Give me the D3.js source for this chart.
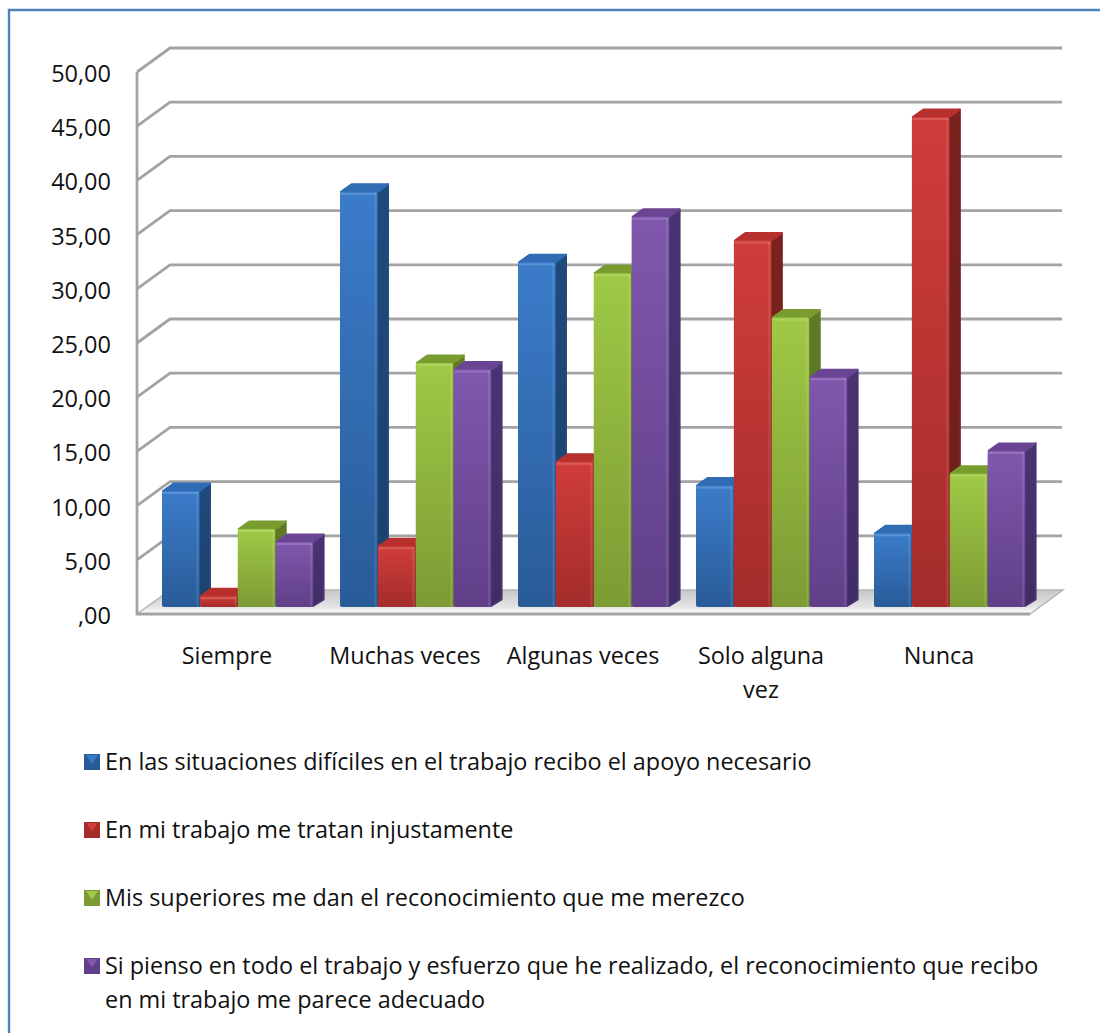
<!DOCTYPE html>
<html>
<head>
<meta charset="utf-8">
<script src="https://d3js.org/d3.v7.min.js"></script>
<style>
html,body{margin:0;padding:0;background:#fff}
svg{display:block}
text{font-family:"Open Sans","Noto Sans",sans-serif;fill:#111}
</style>
</head>
<body>
<svg id="chart" width="1100" height="1033"></svg>
<script>
// Chart content
const categories = ["Siempre", "Muchas veces", "Algunas veces", "Solo alguna vez", "Nunca"];
const seriesNames = [
  "En las situaciones difíciles en el trabajo recibo el apoyo necesario",
  "En mi trabajo me tratan injustamente",
  "Mis superiores me dan el reconocimiento que me merezco",
  "Si pienso en todo el trabajo y esfuerzo que he realizado, el reconocimiento que recibo en mi trabajo me parece adecuado"
];
const apoyo = [10.7, 38.3, 31.8, 11.2, 6.8];
const injusto = [1.0, 5.6, 13.4, 33.8, 45.2];
const reconocimiento = [7.2, 22.5, 30.8, 26.7, 12.3];
const adecuado = [6.0, 21.9, 36.0, 21.2, 14.4];
const seriesValues = [apoyo, injusto, reconocimiento, adecuado];
const yTicks = [0, 5, 10, 15, 20, 25, 30, 35, 40, 45, 50];
const palette = [
  {light:"#3b7cca", dark:"#295b97", top:"#2f6cb4", side:"#1f4a7c"},
  {light:"#d03d3a", dark:"#a32c2a", top:"#b8302d", side:"#7a2220"},
  {light:"#9fc945", dark:"#7c9b34", top:"#799c2f", side:"#5f7b26"},
  {light:"#7f58ad", dark:"#603f88", top:"#6a4593", side:"#4a3372"}
];

const svg = d3.select("#chart");
const defs = svg.append("defs");

// Vertical shading for each series
palette.forEach((p, i) => {
  const g = defs.append("linearGradient").attr("id", "front" + i)
    .attr("x1", 0).attr("y1", 0).attr("x2", 0).attr("y2", 1);
  g.append("stop").attr("offset", 0).attr("stop-color", p.light);
  g.append("stop").attr("offset", 1).attr("stop-color", p.dark);
  const s = defs.append("linearGradient").attr("id", "side" + i)
    .attr("x1", 0).attr("y1", 0).attr("x2", 0).attr("y2", 1);
  s.append("stop").attr("offset", 0).attr("stop-color", p.side);
  s.append("stop").attr("offset", 1).attr("stop-color", d3.color(p.side).darker(0.35));
});
const floorGrad = defs.append("linearGradient").attr("id", "floor")
  .attr("x1", 0).attr("y1", 0).attr("x2", 0).attr("y2", 1);
floorGrad.append("stop").attr("offset", 0).attr("stop-color", "#c6c6c6");
floorGrad.append("stop").attr("offset", 0.7).attr("stop-color", "#e4e4e4");
floorGrad.append("stop").attr("offset", 1).attr("stop-color", "#ffffff");
defs.append("filter").attr("id", "soft").append("feGaussianBlur").attr("stdDeviation", 0.6);

// Frame: top and left edges of the chart area
svg.append("path")
  .attr("d", "M9,1033V10H1100")
  .attr("fill", "none").attr("stroke", "#4f81bd").attr("stroke-width", 2.4);

// Wall geometry: front plane of the axis and the offset to the back wall
const wallLeft = 137, wallRight = 1030, depthX = 33, depthY = -24;
const yAxis = d3.scaleLinear().domain([0, 50]).range([614, 72]);
const gridColor = "#a3a3a3";

// Back wall grid and left wall diagonals
const grid = svg.append("g").attr("fill", "none").attr("stroke", gridColor).attr("stroke-width", 2.8);
yTicks.filter(t => t > 0).forEach(t => {
  grid.append("path").attr("d", d3.line()([
    [wallLeft, yAxis(t)],
    [wallLeft + depthX, yAxis(t) + depthY],
    [wallRight + depthX - 1, yAxis(t) + depthY]
  ]));
});

// Floor slab
const fl = yAxis(0);
svg.append("path")
  .attr("d", d3.line()([
    [wallLeft, fl], [wallLeft + depthX, fl + depthY],
    [wallRight + depthX, fl + depthY], [wallRight, fl]
  ]) + "Z")
  .attr("fill", "url(#floor)").attr("stroke", "#b5b5b5").attr("stroke-width", 1.5);
svg.append("line")
  .attr("x1", wallLeft - 1).attr("x2", wallRight).attr("y1", fl).attr("y2", fl)
  .attr("stroke", gridColor).attr("stroke-width", 3);
svg.append("line")
  .attr("x1", wallLeft).attr("x2", wallLeft).attr("y1", yAxis(50)).attr("y2", fl)
  .attr("stroke", gridColor).attr("stroke-width", 2.8);

// Value axis labels
svg.append("g").selectAll("text").data(yTicks).join("text")
  .attr("x", 111).attr("y", d => yAxis(d) + 1.5)
  .attr("dy", "0.36em")
  .attr("text-anchor", "end").attr("font-size", 23.5)
  .text(d => d === 0 ? ",00" : d3.format(".2f")(d).replace(".", ","));

// Bars: front plane scale sits slightly inside the floor
const yBar = d3.scaleLinear().domain([0, 50]).range([607, 65]);
const xGroup = d3.scaleBand().domain(categories).range([162, 162 + 178 * 5]);
const xBar = d3.scaleBand().domain(d3.range(4)).range([0, 151.5]);
const barDX = 11.5, barDY = -8.5;

categories.forEach((cat, c) => {
  seriesValues.forEach((vals, s) => {
    const g = svg.append("g");
    const x0 = xGroup(cat) + xBar(s), w = xBar.bandwidth() - 0.4;
    const y0 = yBar(vals[c]), y1 = yBar(0);
    const p = palette[s];
    // right side
    g.append("path").attr("d", d3.line()([
      [x0 + w, y0], [x0 + w + barDX - 1, y0 + barDY + 1], [x0 + w + barDX - 1, y1 + barDY + 1], [x0 + w, y1 - 1]
    ]) + "Z").attr("fill", `url(#side${s})`).attr("stroke", p.side).attr("stroke-width", 2)
      .attr("stroke-linejoin", "round");
    // top
    g.append("path").attr("d", d3.line()([
      [x0 + 1, y0], [x0 + barDX, y0 + barDY + 1], [x0 + w + barDX - 1, y0 + barDY + 1], [x0 + w, y0]
    ]) + "Z").attr("fill", p.top).attr("stroke", p.top).attr("stroke-width", 2).attr("stroke-linejoin", "round");
    // front
    g.append("rect").attr("x", x0).attr("y", y0).attr("width", w).attr("height", y1 - y0)
      .attr("rx", 2).attr("fill", `url(#front${s})`);
    // soft bevel along the upper and right edges
    const bevel = g.append("g").attr("filter", "url(#soft)").attr("fill", "#fff");
    bevel.append("rect").attr("x", x0 + 1).attr("y", y0 + 1).attr("width", w - 2)
      .attr("height", Math.min(2, y1 - y0)).attr("opacity", 0.16);
    bevel.append("rect").attr("x", x0 + w - 3).attr("y", y0 + 1).attr("width", 2)
      .attr("height", Math.max(0, y1 - y0 - 2)).attr("opacity", 0.1);
  });
});

// Category labels, wrapped where they run long
const catLines = {"Solo alguna vez": ["Solo alguna", "vez"]};
categories.forEach(cat => {
  const cx = xGroup(cat) + 65;
  const lines = catLines[cat] || [cat];
  lines.forEach((ln, i) => {
    svg.append("text").attr("x", cx).attr("y", 664 + i * 34)
      .attr("text-anchor", "middle").attr("font-size", 23.4).text(ln);
  });
});

// Legend
const legendRows = [
  {s: 0, y: 762, lines: [seriesNames[0]]},
  {s: 1, y: 830, lines: [seriesNames[1]]},
  {s: 2, y: 898, lines: [seriesNames[2]]},
  {s: 3, y: 966, lines: [seriesNames[3].slice(0, 86).trim(), seriesNames[3].slice(86).trim()]}
];
legendRows.forEach(r => {
  const p = palette[r.s];
  const x = 84, y = r.y - 8, sz = 16;
  svg.append("rect").attr("x", x).attr("y", y).attr("width", sz).attr("height", sz).attr("fill", p.dark);
  svg.append("path").attr("d", d3.line()([[x + 2, y + 1], [x + sz - 2, y + 1], [x + sz / 2, y + sz * 0.6]]) + "Z")
    .attr("fill", p.light);
  r.lines.forEach((ln, i) => {
    svg.append("text").attr("x", 105).attr("y", r.y + 8 + i * 34).attr("font-size", 23.4).text(ln);
  });
});
</script>
</body>
</html>
